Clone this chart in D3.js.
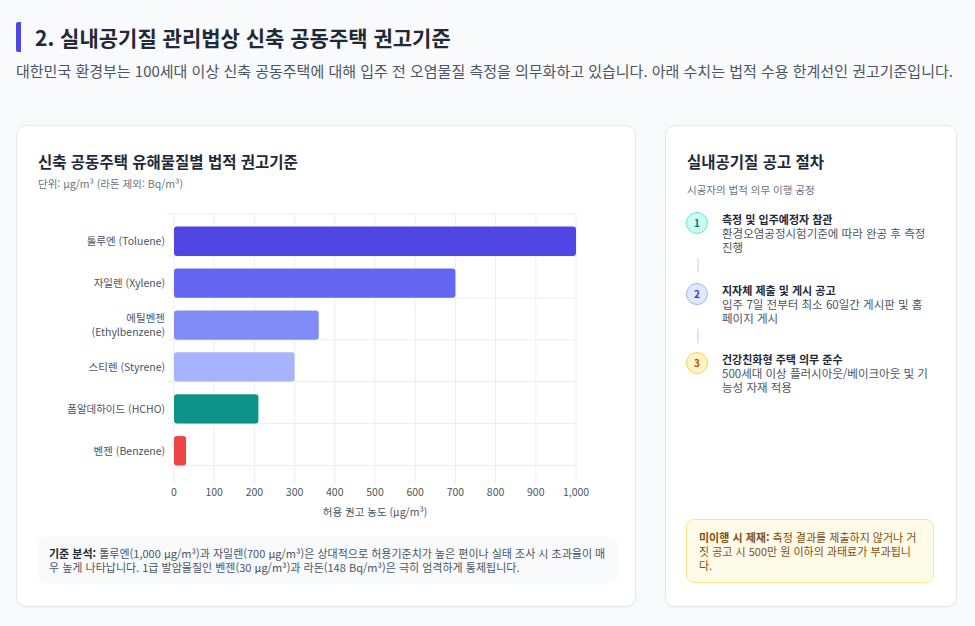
<!DOCTYPE html>
<html lang="ko"><head><meta charset="utf-8">
<script src="https://cdn.jsdelivr.net/npm/d3@7"></script>
<style>
body{margin:0;background:#f9fafb;font-family:"Noto Sans CJK KR","Noto Sans",sans-serif;color:#1f2937;width:975px;height:626px;overflow:hidden;position:relative}
.h{position:absolute;left:16px;top:22px;font-size:21px;font-weight:700;padding-left:14px;border-left:5px solid #4f46e5;line-height:30px;border-radius:2px}
.sub{position:absolute;left:16px;top:60px;width:945px;font-size:15px;color:#4b5563;line-height:21px}
.card{position:absolute;background:#fff;border:1px solid #e5e7eb;border-radius:10px;box-shadow:0 1px 2px rgba(0,0,0,.04)}
.t{font-size:15.5px;font-weight:700}
.u{font-size:10.5px;color:#6b7280}
.note{position:absolute;left:20px;top:411px;width:557px;background:#f9fafb;border-radius:8px;padding:9px 12px;font-size:11px;color:#4b5563;line-height:14px}
.step{position:absolute;left:20px;width:250px}
.c{position:absolute;left:0;top:0;width:22px;height:22px;border-radius:50%;font-size:10px;font-weight:700;text-align:center;line-height:20px;box-sizing:border-box}
.st{position:absolute;left:36px;top:-1px;font-size:11px;font-weight:700;color:#1f2937}
.sd{position:absolute;left:36px;top:14px;font-size:11.5px;color:#4b5563;line-height:14px;width:208px}
.ln{position:absolute;left:31px;width:2px;height:14px;background:#e5e7eb}
.warn{position:absolute;left:20px;top:393px;width:222px;background:#fefce8;border:1px solid #fde68a;border-radius:8px;padding:10px 12px;font-size:11px;color:#854d0e;line-height:14px}
</style></head><body>
<div class="h">2. 실내공기질 관리법상 신축 공동주택 권고기준</div>
<div class="sub">대한민국 환경부는 100세대 이상 신축 공동주택에 대해 입주 전 오염물질 측정을 의무화하고 있습니다. 아래 수치는 법적 수용 한계선인 권고기준입니다.</div>
<div class="card" style="left:16px;top:125px;width:618px;height:480px">
 <div class="t" style="position:absolute;left:21px;top:24px">신축 공동주택 유해물질별 법적 권고기준</div>
 <div class="u" style="position:absolute;left:21px;top:50px">단위: μg/m³ (라돈 제외: Bq/m³)</div>
 <svg id="chart" width="618" height="410" style="position:absolute;left:0;top:0"></svg>
 <div class="note"><b style="color:#1f2937">기준 분석:</b> 톨루엔(1,000 μg/m³)과 자일렌(700 μg/m³)은 상대적으로 허용기준치가 높은 편이나 실태 조사 시 초과율이 매우 높게 나타납니다. 1급 발암물질인 벤젠(30 μg/m³)과 라돈(148 Bq/m³)은 극히 엄격하게 통제됩니다.</div>
</div>
<div class="card" style="left:665px;top:125px;width:290px;height:480px">
 <div class="t" style="position:absolute;left:21px;top:24px">실내공기질 공고 절차</div>
 <div class="u" style="position:absolute;left:21px;top:56px">시공자의 법적 의무 이행 공정</div>
 <div class="step" style="top:86px"><div class="c" style="background:#ccfbf1;border:1px solid #5eead4;color:#0f766e">1</div><div class="st">측정 및 입주예정자 참관</div><div class="sd">환경오염공정시험기준에 따라 완공 후 측정 진행</div></div>
 <div class="ln" style="top:132px"></div>
 <div class="step" style="top:157px"><div class="c" style="background:#e0e7ff;border:1px solid #a5b4fc;color:#4338ca">2</div><div class="st">지자체 제출 및 게시 공고</div><div class="sd">입주 7일 전부터 최소 60일간 게시판 및 홈페이지 게시</div></div>
 <div class="ln" style="top:203px"></div>
 <div class="step" style="top:226px"><div class="c" style="background:#fef3c7;border:1px solid #fcd34d;color:#b45309">3</div><div class="st">건강친화형 주택 의무 준수</div><div class="sd">500세대 이상 플러시아웃/베이크아웃 및 기능성 자재 적용</div></div>
 <div class="warn"><b>미이행 시 제재:</b> 측정 결과를 제출하지 않거나 거짓 공고 시 500만 원 이하의 과태료가 부과됩니다.</div>
</div>
<script>
const labels=[["톨루엔 (Toluene)"],["자일렌 (Xylene)"],["에틸벤젠","(Ethylbenzene)"],["스티렌 (Styrene)"],["폼알데하이드 (HCHO)"],["벤젠 (Benzene)"]];
const values=[1000,700,360,300,210,30];
const colors=["#4f46e5","#6366f1","#818cf8","#a5b4fc","#0d9488","#ef4444"];
const ticks=[0,100,200,300,400,500,600,700,800,900,1000];
const svg=d3.select("#chart");
const x=d3.scaleLinear().domain([0,1000]).range([157,559]);
const y=d3.scaleBand().domain(d3.range(values.length)).range([88,352]).padding(0.3);
const g=svg.append("g");
g.selectAll("line.v").data(ticks).join("line").attr("x1",d=>x(d)).attr("x2",d=>x(d)).attr("y1",88).attr("y2",358).attr("stroke","#eceef1");
g.selectAll("line.h").data(d3.range(values.length+1)).join("line").attr("x1",150).attr("x2",559).attr("y1",d=>88+d*y.step()).attr("y2",d=>88+d*y.step()).attr("stroke","#eceef1");
g.selectAll("rect").data(values).join("rect").attr("x",x(0)).attr("y",(d,i)=>y(i)).attr("width",d=>x(d)-x(0)).attr("height",y.bandwidth()).attr("rx",3).attr("fill",(d,i)=>colors[i]);
const lt=g.selectAll("text.l").data(labels).join("text").attr("text-anchor","end").attr("font-size",10.5).attr("fill","#4b5563");
lt.each(function(d,i){const t=d3.select(this);const cy=y(i)+y.bandwidth()/2;d.forEach((s,k)=>t.append("tspan").attr("x",148).attr("y",cy+4+(k-(d.length-1)/2)*14).text(s));});
g.selectAll("text.t").data(ticks).join("text").attr("x",d=>x(d)).attr("y",370).attr("text-anchor","middle").attr("font-size",10.5).attr("fill","#4b5563").text(d=>d3.format(",")(d));
g.append("text").attr("x",x(500)).attr("y",390).attr("text-anchor","middle").attr("font-size",10.5).attr("fill","#4b5563").text("허용 권고 농도 (μg/m³)");
</script></body></html>
